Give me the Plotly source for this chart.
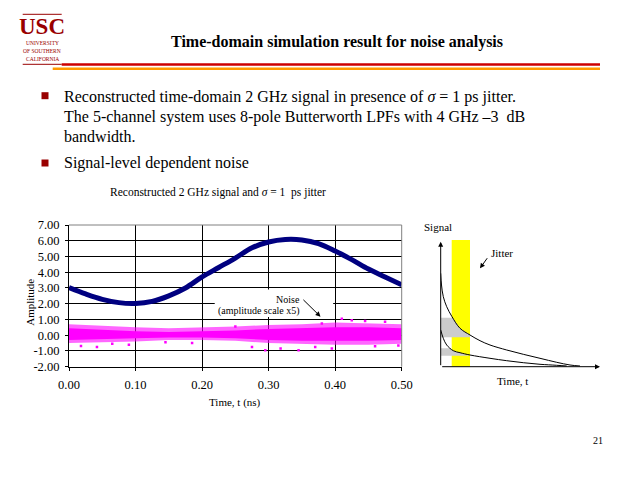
import plotly.graph_objects as go

W, H = 640, 480
OFF = 8  # the page body has an 8px margin, so shift everything up/left by that much
SERIF = 'Liberation Serif'
MAROON = '#990000'

# --- Reconstructed 2 GHz signal ---
time_ns = [0.0, 0.025, 0.05, 0.075, 0.1, 0.125, 0.15, 0.175, 0.2, 0.225, 0.25,
           0.275, 0.3, 0.325, 0.35, 0.375, 0.4, 0.425, 0.45, 0.475, 0.5]
signal_amp = [3.02, 2.62, 2.28, 2.07, 2.02, 2.15, 2.5, 3.0, 3.7, 4.3, 4.9,
              5.55, 5.92, 6.08, 6.05, 5.82, 5.35, 4.8, 4.2, 3.7, 3.2]

# --- Noise (amplitude scale x5): envelope of the dense band + stray dots ---
noise_t = [0.0, 0.05, 0.1, 0.15, 0.2, 0.25, 0.3, 0.35, 0.4, 0.45, 0.5]
noise_outer_hi = [0.7, 0.6, 0.5, 0.45, 0.5, 0.55, 0.65, 0.7, 0.8, 0.75, 0.7]
noise_outer_lo = [-0.5, -0.45, -0.4, -0.3, -0.3, -0.35, -0.5, -0.55, -0.6, -0.6, -0.55]
noise_core_hi = [0.45, 0.35, 0.25, 0.2, 0.25, 0.3, 0.4, 0.45, 0.5, 0.5, 0.45]
noise_core_lo = [-0.3, -0.25, -0.2, -0.15, -0.15, -0.2, -0.3, -0.35, -0.35, -0.35, -0.3]
stray_t = [0.018, 0.042, 0.065, 0.09, 0.145, 0.185, 0.25, 0.275, 0.295, 0.318,
           0.345, 0.37, 0.38, 0.395, 0.41, 0.425, 0.445, 0.46, 0.475, 0.495]
stray_amp = [-0.68, -0.75, -0.55, -0.6, -0.45, -0.5, 0.55, -0.75, -0.95, -0.85,
             -0.95, -0.75, 0.75, -0.85, 1.05, 0.95, 0.9, -0.7, 0.85, -0.65]

x_tick_vals = [0.0, 0.1, 0.2, 0.3, 0.4, 0.5]
x_tick_text = ['0.00', '0.10', '0.20', '0.30', '0.40', '0.50']
y_tick_vals = [-2, -1, 0, 1, 2, 3, 4, 5, 6, 7]
y_tick_text = ['-2.00', '-1.00', '0.00', '1.00', '2.00', '3.00', '4.00', '5.00', '6.00', '7.00']

# --- Jitter sketch (arbitrary units) ---
sketch_t_hi = [0, 0.8, 2.6, 6, 11.3, 19.3, 29.3, 39.3, 49.3, 66, 82.6, 99.3, 116, 129.3, 139.3]
sketch_hi = [93.4, 81.7, 70, 60, 50, 38.4, 31.7, 26, 21.7, 16.7, 12.4, 8.4, 4.4, 1.7, 0.7]
sketch_t_lo = [0, 2.6, 6, 12.6, 19.3, 29.3, 49.3, 66, 82.6, 99.3, 116, 126]
sketch_lo = [36.7, 28.4, 21.7, 16, 14, 11.7, 8.4, 6, 4, 2.4, 1.4, 0.7]
jitter_window = [11, 29.3]
band_hi_t = [0, 0, 12, 19.3, 29.3, 29.3]
band_hi_y = [29.4, 49, 49, 38.4, 31.7, 29.4]
band_lo_t = [0, 0, 9.8, 12.6, 19.3, 29.3, 29.3]
band_lo_y = [11, 18.4, 18.4, 16, 14, 11.7, 11]


def px(x):
    return (x - OFF) / W


def py(y):
    return 1 - (y - OFF) / H


fig = go.Figure()

# --- Main chart traces ---
fig.add_trace(go.Scatter(x=noise_t + noise_t[::-1], y=noise_outer_hi + noise_outer_lo[::-1],
                         fill='toself', fillcolor='rgba(255,0,255,0.6)', mode='lines',
                         line=dict(width=0, color='rgba(0,0,0,0)'), hoverinfo='skip'))
fig.add_trace(go.Scatter(x=noise_t + noise_t[::-1], y=noise_core_hi + noise_core_lo[::-1],
                         fill='toself', fillcolor='#FF00FF', mode='lines',
                         line=dict(width=0, color='rgba(0,0,0,0)'), hoverinfo='skip'))
fig.add_trace(go.Scatter(x=stray_t, y=stray_amp, mode='markers',
                         marker=dict(symbol='square', size=2.5, color='#FF00FF')))
fig.add_trace(go.Scatter(x=time_ns, y=signal_amp, mode='lines',
                         line=dict(width=5, color='#000080', shape='spline')))

# --- Jitter sketch traces ---
fig.add_trace(go.Scatter(x=[jitter_window[0], jitter_window[1], jitter_window[1], jitter_window[0]],
                         y=[0, 0, 126.7, 126.7], fill='toself', fillcolor='#FFFF00',
                         mode='lines', line=dict(width=0, color='rgba(0,0,0,0)'),
                         xaxis='x2', yaxis='y2'))
for bt, by in [(band_hi_t, band_hi_y), (band_lo_t, band_lo_y)]:
    fig.add_trace(go.Scatter(x=bt, y=by, fill='toself', fillcolor='#CCCCCC', mode='lines',
                             line=dict(width=0, color='rgba(0,0,0,0)'),
                             xaxis='x2', yaxis='y2'))
fig.add_trace(go.Scatter(x=sketch_t_hi, y=sketch_hi, mode='lines',
                         line=dict(width=1, color='black', shape='spline'),
                         xaxis='x2', yaxis='y2'))
fig.add_trace(go.Scatter(x=sketch_t_lo, y=sketch_lo, mode='lines',
                         line=dict(width=1, color='black', shape='spline'),
                         xaxis='x2', yaxis='y2'))

tick_font = dict(family=SERIF, size=12.5, color='black')
fig.update_layout(
    width=W, height=H, autosize=False, showlegend=False,
    margin=dict(l=0, r=0, t=0, b=0),
    paper_bgcolor='white', plot_bgcolor='white',
    xaxis=dict(domain=[px(69), px(401.7)], range=[0, 0.5], tickvals=x_tick_vals,
               ticktext=x_tick_text, showgrid=True, gridcolor='black', gridwidth=1,
               showline=True, linecolor='black', linewidth=1, ticks='outside',
               ticklen=3, tickcolor='black', tickfont=tick_font, zeroline=False,
               automargin=False, ticklabelstandoff=3, fixedrange=True),
    yaxis=dict(domain=[py(366.7), py(225)], range=[-2, 7], tickvals=y_tick_vals,
               ticktext=y_tick_text, showgrid=True, gridcolor='black', gridwidth=1,
               showline=True, linecolor='black', linewidth=1, ticks='outside',
               ticklen=3, tickcolor='black', tickfont=tick_font, zeroline=False,
               automargin=False, ticklabelstandoff=3, fixedrange=True),
    xaxis2=dict(domain=[px(440.7), px(605.7)], range=[0, 165], visible=False,
                anchor='y2', fixedrange=True),
    yaxis2=dict(domain=[py(366.7), py(236.7)], range=[0, 130], visible=False,
                anchor='x2', fixedrange=True),
)

# --- Shapes: plot border (grey top/right), noise label box, header rules, logo, bullets ---
shapes = [
    dict(type='line', xref='x domain', yref='y domain', x0=0, x1=1, y0=1, y1=1,
         line=dict(color='#808080', width=1), layer='above'),
    dict(type='line', xref='x domain', yref='y domain', x0=1, x1=1, y0=0, y1=1,
         line=dict(color='#808080', width=1), layer='above'),
    dict(type='rect', xref='x', yref='y', x0=0.219, x1=0.397, y0=1.15, y1=2.9,
         fillcolor='white', line=dict(width=0), layer='above'),
    dict(type='line', xref='paper', yref='paper', x0=px(61.7), x1=px(600), y0=py(64.5), y1=py(64.5),
         line=dict(color='#CC0000', width=2.5)),
    dict(type='line', xref='paper', yref='paper', x0=px(52.7), x1=px(600), y0=py(68.7), y1=py(68.7),
         line=dict(color='#FF9900', width=2.5)),
    dict(type='line', xref='paper', yref='paper', x0=px(22.7), x1=px(61.7), y0=py(14.3), y1=py(14.3),
         line=dict(color=MAROON, width=1)),
    dict(type='line', xref='paper', yref='paper', x0=px(22.7), x1=px(61.7), y0=py(64.3), y1=py(64.3),
         line=dict(color=MAROON, width=1)),
]
for by in [95.7, 163]:
    shapes.append(dict(type='rect', xref='paper', yref='paper', x0=px(41.5), x1=px(48.5),
                       y0=py(by + 3.5), y1=py(by - 3.5), fillcolor=MAROON, line=dict(width=0)))
fig.update_layout(shapes=shapes)


def text(x, y, s, size, bold=False, anchor='center', color='black', angle=0):
    fig.add_annotation(x=px(x), y=py(y), xref='paper', yref='paper', text=f'<b>{s}</b>' if bold else s,
                       showarrow=False, xanchor=anchor, yanchor='middle', textangle=angle,
                       font=dict(family=SERIF, size=size, color=color))


def arrow(x, y, ax, ay, xref, yref):
    fig.add_annotation(x=x, y=y, ax=ax, ay=ay, xref=xref, yref=yref, axref=xref, ayref=yref,
                       text='', showarrow=True, arrowhead=2, arrowsize=1, arrowwidth=1,
                       arrowcolor='black')


# --- Header and body text ---
text(336.5, 42, 'Time-domain simulation result for noise analysis', 16, bold=True)
text(42, 26.7, 'USC', 23, bold=True, color=MAROON)
text(42, 42.7, 'UNIVERSITY', 5.5, color=MAROON)
text(42, 51, 'OF SOUTHERN', 5.5, color=MAROON)
text(42, 59.3, 'CALIFORNIA', 5.5, color=MAROON)
text(62, 96.7, 'Reconstructed time-domain 2 GHz signal in presence of <i>σ</i> = 1 ps jitter.', 16, anchor='left')
text(62, 116.7, 'The 5-channel system uses 8-pole Butterworth LPFs with 4 GHz –3  dB', 16, anchor='left')
text(62, 136.7, 'bandwidth.', 16, anchor='left')
text(62, 163.3, 'Signal-level dependent noise', 16, anchor='left')
text(218, 192.7, 'Reconstructed 2 GHz signal and <i>σ</i> = 1  ps jitter', 11.5)
text(598, 440, '21', 10)

# --- Main chart labels ---
text(29.3, 302.5, 'Amplitude', 11, angle=-90)
text(235, 402.3, 'Time, t (ns)', 11)
text(287.5, 299, 'Noise', 10)
text(259, 310.5, '(amplitude scale x5)', 10)
arrow(0.378, 1.18, 0.35, 2.34, 'x', 'y')

# --- Jitter sketch labels and arrows ---
text(438, 227, 'Signal', 11)
text(501.5, 253, 'Jitter', 11)
text(512.5, 380.5, 'Time, t', 11)
arrow(0, 125, 0, 0, 'x2', 'y2')
arrow(159.3, 0, 0, 0, 'x2', 'y2')
arrow(39.3, 98.4, 47.6, 110, 'x2', 'y2')

fig.write_html('out.html')
